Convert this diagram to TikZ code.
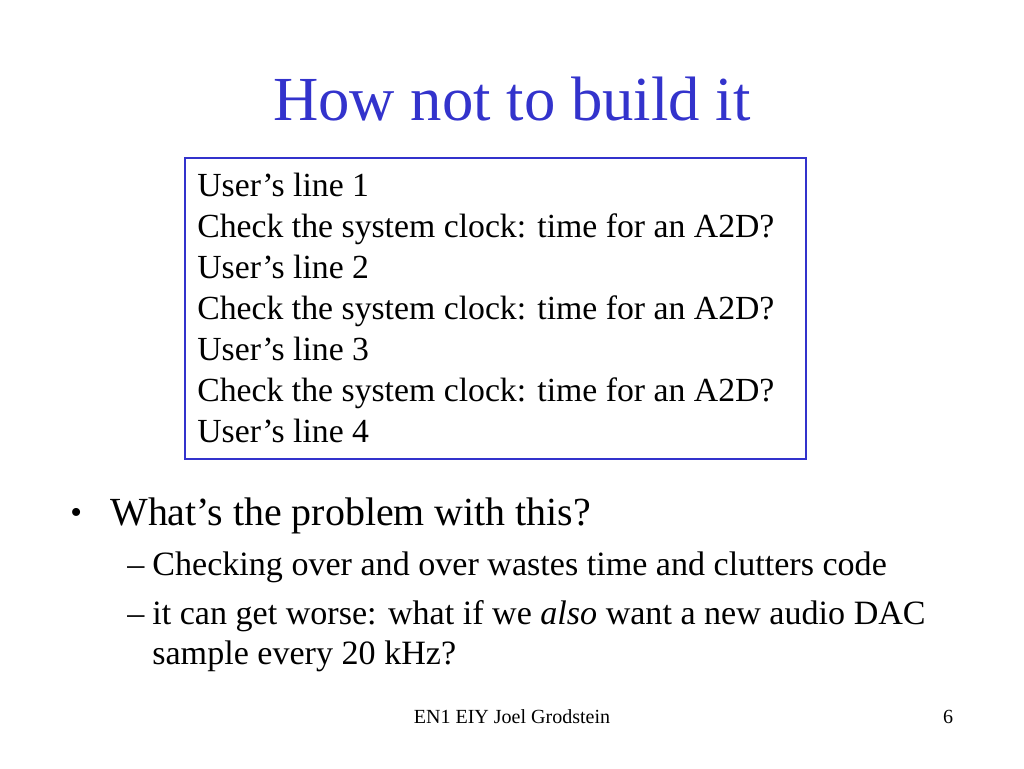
\documentclass[tikz,border=0pt]{standalone}
\usepackage{fontspec}
\setmainfont{Liberation Serif}
\definecolor{titleblue}{RGB}{51,51,204}
\definecolor{boxblue}{RGB}{51,51,204}
\begin{document}
\begin{tikzpicture}[x=0.02cm,y=-0.02cm,
	boxline/.style={anchor=base west,inner sep=0pt,font=\fontsize{19.2}{22}\selectfont},
	bullet/.style={anchor=base west,inner sep=0pt,font=\fontsize{22.7}{26}\selectfont},
	sub/.style={anchor=base west,inner sep=0pt,font=\fontsize{19.4}{22}\selectfont},
	foot/.style={anchor=base,inner sep=0pt,font=\fontsize{11.4}{13}\selectfont}]

	\useasboundingbox (0,0) rectangle (1024,768);

	\node[anchor=base,inner sep=0pt,text=titleblue,font=\fontsize{35.7}{42}\selectfont] (title) at (512,120) {How not to build it};

	% code box
	\draw[boxblue,line width=1.2pt] (185,158) rectangle (806,459);
	\foreach \i/\t in {0/User's line 1,1/Check the system clock: time for an A2D?,2/User's line 2,
		3/Check the system clock: time for an A2D?,4/User's line 3,5/Check the system clock: time for an A2D?,6/User's line 4}
		\node[boxline] (line\i) at (197,196+41*\i) {\t};

	% bullets
	\node[bullet,font=\fontsize{19}{22}\selectfont] (dot) at (70,523) {\textbullet};
	\node[bullet] (q) at (110,525) {What's the problem with this?};
	\node[sub] (d1) at (127,575) {--};
	\node[sub] (a1) at (152,575) {Checking over and over wastes time and clutters code};
	\node[sub] (d2) at (127,624) {--};
	\node[sub] (a2) at (152,624) {it can get worse: what if we \textit{also} want a new audio DAC};
	\node[sub] (a3) at (152,664) {sample every 20 kHz?};

	\node[foot] (footer) at (512,723) {EN1 EIY Joel Grodstein};
	\node[foot] (page) at (948,723) {6};
\end{tikzpicture}
\end{document}
